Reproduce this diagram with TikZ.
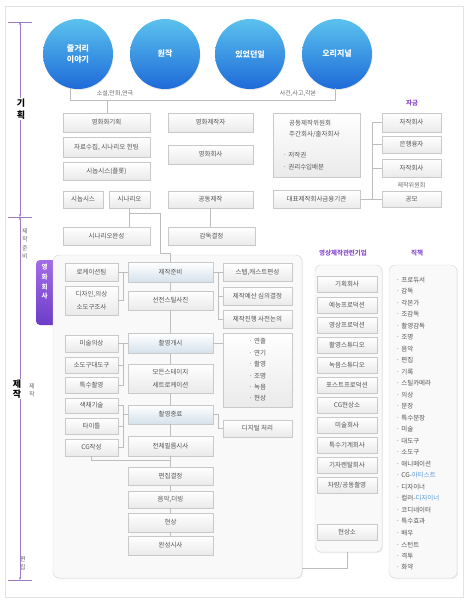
\documentclass[tikz,border=0pt]{standalone}
\usepackage{fontspec}
\setmainfont{Noto Sans CJK KR}
\usepackage{xcolor}
\usepackage{tikz}
\usetikzlibrary{arrows.meta,shadows}

\definecolor{txt}{HTML}{555555}
\definecolor{boxline}{HTML}{C9C9C9}
\definecolor{boxbot}{HTML}{EAEAEA}
\definecolor{keybot}{HTML}{D4E1EB}
\definecolor{panelline}{HTML}{D5D5D5}
\definecolor{panelbg}{HTML}{F9F9F9}
\definecolor{linegray}{HTML}{BDBDBD}
\definecolor{notegray}{HTML}{666666}
\definecolor{headpurple}{HTML}{8C4FD0}
\definecolor{axispurple}{HTML}{9C7BBE}
\definecolor{bubtop}{HTML}{5BC2EE}
\definecolor{bubbot}{HTML}{1E6AD8}
\definecolor{tabtop}{HTML}{A46CE8}
\definecolor{tabbot}{HTML}{6B3DC7}
\definecolor{hl}{HTML}{5A9AD8}
\definecolor{framegray}{HTML}{E3E3E3}

\begin{document}
\begin{tikzpicture}[x=1pt,y=-1pt,
  every node/.style={font=\fontsize{6.5}{8}\selectfont,text=txt,inner sep=0pt},
  bubble/.style={circle,minimum size=70pt,top color=bubtop,bottom color=bubbot,text=white,align=center,
    font=\fontsize{8}{11}\selectfont\bfseries,drop shadow={opacity=.2,shadow xshift=.5pt,shadow yshift=-1pt}},
  box/.style={draw=boxline,line width=.4pt,top color=white,bottom color=boxbot,minimum width=87pt,minimum height=18pt,
    align=center,drop shadow={opacity=.12,shadow xshift=.6pt,shadow yshift=-.8pt}},
  keybox/.style={box,bottom color=keybot},
  small/.style={box,minimum width=53pt},
  side/.style={box,minimum width=69pt},
  fund/.style={box,minimum width=59pt},
  firm/.style={box,minimum width=60pt,minimum height=16pt},
  twoline/.style={font=\fontsize{6.5}{12.5}\selectfont},
  panel/.style={draw=panelline,fill=panelbg,rounded corners=6pt,drop shadow={opacity=.15,shadow xshift=.8pt,shadow yshift=-1pt}},
  note/.style={text=notegray,font=\fontsize{6}{8}\selectfont},
  head/.style={text=headpurple,font=\fontsize{6.5}{8}\selectfont\bfseries},
  link/.style={draw=linegray,line width=.4pt},
  axisline/.style={draw=axispurple,line width=.6pt,{Stealth[length=3pt,width=2.5pt]}-{Stealth[length=3pt,width=2.5pt]}},
  phasebig/.style={font=\fontsize{9}{12}\selectfont\bfseries,text=black,fill=white,align=center,inner sep=1pt},
  phase/.style={text=notegray,font=\fontsize{6}{8.5}\selectfont,align=center}]

  \useasboundingbox (0,0) rectangle (470,600);
  \draw[framegray] (5,6) rectangle (463,597);

  % stage axis
  \coordinate (axtop) at (20,22);
  \coordinate (axmid) at (20,217);
  \coordinate (axbot) at (20,580);
  \draw[axisline] (axtop) -- (axmid);
  \draw[axisline] (axmid) -- (axbot);
  \foreach \y in {22,217,580}
    \draw[axispurple,line width=.5pt] (8,\y) -- (32,\y);
  \node[phasebig] (plan-lbl) at (21,109) {기\\획};
  \node[phase] (prep-lbl) at (25,244) {제\\작\\준\\비};
  \node[phasebig,font=\fontsize{9}{10.5}\selectfont\bfseries] (shoot-lbl) at (17,389) {제\\작};
  \node[phase] (shoot-lbl2) at (32,390) {제\\작};
  \node[phase] (edit-lbl) at (23,563) {편\\집};

  % sources
  \node[bubble] (story) at (78,54) {줄거리\\이야기};
  \node[bubble] (novel) at (165,54) {원작};
  \node[bubble] (fact) at (250,54) {있었던일};
  \node[bubble] (orig) at (337,54) {오리지널};
  \node[note] (lit) at (115,94) {소설,만화,연극};
  \node[note] (event) at (298,94) {사건,사고,각본};
  \coordinate (srcL) at (70,88);
  \coordinate (srcR) at (335,88);
  \coordinate (srcmid) at (107,100);
  \draw[link] (srcL) |- (srcR |- srcmid) -- (srcR);

  % planning
  \node[box,minimum height=19pt] (plan) at (106.5,122.5) {영화화기획};
  \node[box,minimum height=20pt] (research) at (106.5,147) {자료수집, 시나리오 헌팅};
  \node[box] (plot) at (106.5,171) {시놉시스(플롯)};
  \node[box,minimum width=40pt,minimum height=17pt] (synopsis) at (83,199.5) {시놉시스};
  \node[box,minimum width=41pt,minimum height=17pt] (script) at (129.5,199.5) {시나리오};
  \node[box,minimum width=85pt,minimum height=19pt] (producer) at (210.5,122.5) {영화제작자};
  \node[box,minimum width=85pt,minimum height=19pt] (filmco) at (210.5,154.5) {영화회사};
  \node[box,minimum width=85pt,minimum height=17pt] (coprod) at (210.5,199.5) {공동제작};
  \node[box,minimum height=64pt] (committee) at (316.5,145) {};
  \node[anchor=west] (cm1) at (289,123) {공동제작위원회};
  \node[anchor=west] (cm2) at (289,134) {주간회사/출자회사};
  \node[anchor=west] (cm3) at (283,155) {·\ 저작권};
  \node[anchor=west] (cm4) at (283,167) {·\ 권리수입배분};
  \node[box] (bank) at (316.5,199.5) {대표제작회사금융기관};
  \draw[link] (srcmid) -- (srcmid |- plan.north);

  % funds
  \node[head] (fundhead) at (412,103) {자금};
  \node[fund,minimum height=19pt] (fund1) at (411.5,122.5) {자작회사};
  \node[fund,minimum height=17pt] (fund2) at (411.5,144.5) {은행융자};
  \node[fund] (fund3) at (411.5,168) {자작회사};
  \node[note] (fundnote) at (411.5,185) {제작위원회};
  \node[fund,minimum height=16pt] (fund4) at (411.5,199.5) {공모};
  \coordinate (fundbar) at (372,122.5);
  \draw[link] (fund1) -- (fundbar) |- (fund4);
  \draw[link] (fund2.west) -- (fund2.west -| fundbar);
  \draw[link] (fund3.west) -- (fund3.west -| fundbar);
  \draw[link] (bank) -- (fund4);

  % pre-production
  \node[box] (scriptdone) at (106.5,236) {시나리오완성};
  \node[box] (director) at (211.5,236) {감독결정};
  \draw[link] (script) -- (script |- scriptdone.north);
  \draw[link] (coprod) -- (coprod |- director.north);

  % production panel
  \shade[top color=tabtop,bottom color=tabbot,rounded corners=4pt] (36,260) rectangle (60,325);
  \node[text=white,align=center,font=\fontsize{6.5}{9.7}\selectfont\bfseries] (tab) at (44.5,282) {영\\화\\회\\사};
  \draw[panel] (53,255) rectangle (302,578);
  \coordinate (branch) at (129.5,213);
  \coordinate (elbow) at (160,253);

  \node[small] (loc) at (91.5,272.5) {로케이션팀};
  \node[small,twoline,minimum height=29pt] (design) at (91.5,300.5) {디자인,의상\\소도구조사};
  \node[keybox,minimum width=85pt,minimum height=20pt] (prep) at (170.5,272.5) {제작준비};
  \node[box,minimum width=85pt,minimum height=19pt] (still) at (170.5,300.5) {선전스틸사진};
  \node[side] (staff) at (257.5,272.5) {스텝,캐스트편성};
  \node[side] (budget) at (257.5,296) {제작예산 심의결정};
  \node[side] (meet) at (257.5,319) {제작진행 사전논의};

  \node[small,minimum height=17pt] (art) at (91.5,343.5) {미술의상};
  \node[small,minimum height=16pt] (props) at (91.5,365) {소도구대도구};
  \node[small,minimum height=16pt] (sfx) at (91.5,385) {특수촬영};
  \node[small,minimum height=15pt] (color) at (91.5,405.5) {색채기술};
  \node[small,minimum height=16pt] (title) at (91.5,426) {타이틀};
  \node[small,minimum height=17pt] (cg) at (91.5,447.5) {CG작성};
  \node[keybox,minimum width=85pt,minimum height=20pt] (start) at (170.5,343.5) {촬영개시};
  \node[box,twoline,minimum width=85pt,minimum height=29pt] (stage) at (170.5,378.5) {모든스테이지\\세트로케이션};
  \node[keybox,minimum width=85pt,minimum height=19pt] (wrap) at (170.5,414.5) {촬영종료};
  \node[box,minimum width=85pt,minimum height=20pt] (rush) at (170.5,446) {전체필름시사};
  \node[side,minimum height=74pt,align=left,font=\fontsize{6.5}{11.4}\selectfont] (crew) at (257.5,370)
    {·\ 연출\\·\ 연기\\·\ 촬영\\·\ 조명\\·\ 녹음\\·\ 현상};
  \node[side,minimum height=17pt] (digital) at (257.5,428.5) {디지털 처리};

  \node[box,minimum width=85pt] (edit) at (170.5,476) {편집결정};
  \node[box,minimum width=85pt,minimum height=17pt] (music) at (170.5,499.5) {음악,더빙};
  \node[box,minimum width=85pt,minimum height=19pt] (lab) at (170.5,522.5) {현상};
  \node[box,minimum width=85pt,minimum height=19pt] (final) at (170.5,545.5) {완성시사};

  \draw[link] (branch) -| (elbow) -| (prep.north);
  \foreach \a/\b in {prep/still,still/start,start/stage,stage/wrap,wrap/rush,rush/edit,edit/music,music/lab,lab/final}
    \draw[link] (\a) -- (\b);

  \coordinate (barA) at (123,272.5);
  \draw[link] (loc) -- (prep);
  \draw[link] (design.east) -| (barA);
  \coordinate (barB) at (218,272.5);
  \draw[link] (prep) -- (staff);
  \draw[link] (barB) |- (meet.west);
  \draw[link] (budget.west) -- (budget.west -| barB);

  \coordinate (barC) at (123,343.5);
  \draw[link] (art) -- (start);
  \draw[link] (barC) |- (sfx.east);
  \draw[link] (props.east) -- (props.east -| barC);
  \coordinate (barD) at (123,414.5);
  \draw[link] (wrap.west) -- (barD) |- (cg.east);
  \draw[link] (color.east) -| (barD);
  \draw[link] (title.east) -- (title.east -| barD);
  \coordinate (cgjoin) at (170.5,460);
  \draw[link] (cg) |- (cgjoin);

  \draw[link] (start) -- (start -| crew.west);
  \coordinate (barE) at (218,414.5);
  \draw[link] (wrap) -- (barE) |- (digital);

  % companies
  \node[head] (firmhead) at (343,253) {영상제작관련기업};
  \draw[panel] (315,265) rectangle (382,552);
  \foreach \y/\firm [count=\i] in {284.5/기획회사,305.5/예능프로덕션,325.5/영상프로덕션,345/촬영스튜디오,
      365/녹음스튜디오,385/포스트프로덕션,405/CG현상소,425/미술회사,445/특수기계회사,
      465/기자렌탈회사,485/{차량/공동촬영},532/현상소}
    \node[firm] (firm\i) at (347,\y) {\firm};
  \coordinate (firmfoot) at (347,552);
  \coordinate (firmdrop) at (347,568);
  \coordinate (prodedge) at (302,568);
  \draw[link] (firmfoot) -- (firmdrop) -- (prodedge);

  % roles
  \node[head] (rolehead) at (417,253) {직책};
  \draw[panel] (389,265) rectangle (457,578);
  \foreach \role [count=\i from 0] in {프로듀서,감독,각본가,조감독,촬영감독,조명,음악,편집,기록,스틸카메라,
      의상,분장,특수분장,미술,대도구,소도구,애니메이션,CG-\textcolor{hl}{아티스트},디자이너,
      컬러-\textcolor{hl}{디자이너},코디네이터,특수효과,배우,스턴트,격투,화약}
    \node[anchor=west] (role\i) at (396,{280+11.5*\i}) {·\ \role};
\end{tikzpicture}
\end{document}
